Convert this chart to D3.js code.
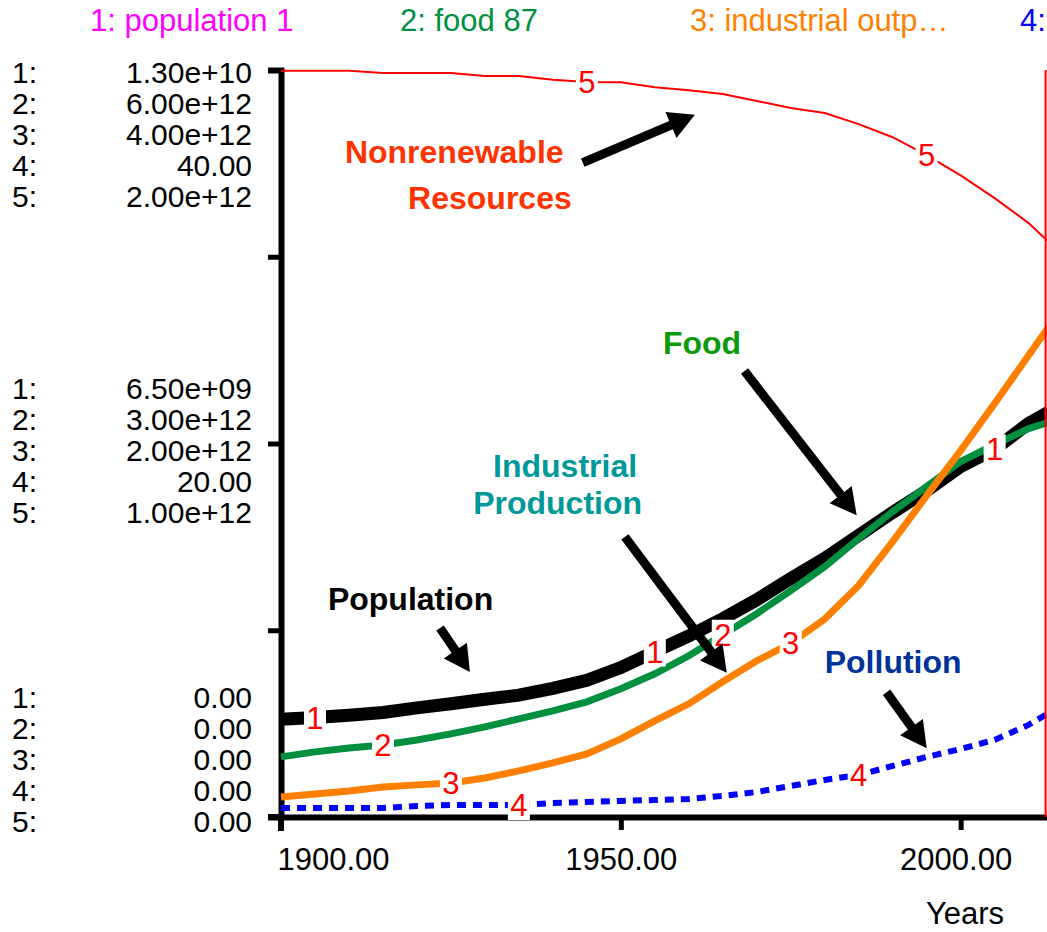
<!DOCTYPE html>
<html>
<head>
<meta charset="utf-8">
<script src="https://cdn.jsdelivr.net/npm/d3@7"></script>
<style>
  body { margin: 0; background: #fff; }
  text { font-family: "Liberation Sans", Arial, sans-serif; }
</style>
</head>
<body>
<svg id="chart" width="1047" height="932"></svg>
<script>
/* World model run: population, food, industry, pollution, resources */

// sampled every 5 years, last point is the end of the run
var years      = [1900,1905,1910,1915,1920,1925,1930,1935,1940,1945,1950,1955,1960,1965,1970,1975,1980,1985,1990,1995,2000,2005,2010,2013];
var population = [1.70e9,1.73e9,1.77e9,1.82e9,1.90e9,1.97e9,2.05e9,2.12e9,2.24e9,2.38e9,2.60e9,2.88e9,3.15e9,3.45e9,3.78e9,4.15e9,4.50e9,4.90e9,5.30e9,5.68e9,6.10e9,6.40e9,6.85e9,7.05e9];
var food       = [0.483e12,0.523e12,0.555e12,0.579e12,0.619e12,0.668e12,0.724e12,0.788e12,0.853e12,0.925e12,1.03e12,1.15e12,1.295e12,1.464e12,1.633e12,1.818e12,2.011e12,2.236e12,2.453e12,2.654e12,2.855e12,2.99e12,3.12e12,3.17e12];
var industrial = [0.107e12,0.123e12,0.139e12,0.161e12,0.172e12,0.182e12,0.209e12,0.247e12,0.290e12,0.338e12,0.418e12,0.515e12,0.606e12,0.724e12,0.836e12,0.93e12,1.06e12,1.24e12,1.475e12,1.721e12,1.962e12,2.214e12,2.472e12,2.627e12];
var pollution  = [0.483,0.483,0.483,0.483,0.59,0.643,0.643,0.643,0.751,0.804,0.858,0.912,0.965,1.126,1.34,1.662,1.984,2.25,2.735,3.217,3.646,4.129,4.933,5.576];
var resources  = [1.998e12,1.998e12,1.998e12,1.992e12,1.992e12,1.992e12,1.984e12,1.984e12,1.974e12,1.968e12,1.967e12,1.954e12,1.946e12,1.936e12,1.917e12,1.898e12,1.885e12,1.855e12,1.820e12,1.772e12,1.718e12,1.657e12,1.590e12,1.539e12];

var seriesMax    = [1.3e10, 6e12, 4e12, 40, 2e12];
var legendLabels = ["1: population 1", "2: food 87", "3: industrial outp\u2026", "4:"];
var labelYears   = [[1905,1955,2005],[1915,1965],[1925,1975],[1935,1985],[1945,1995]];
var xTicks       = [1900, 1950, 2000];
var currentTime  = 2012.5;
var xTitle       = "Years";

// annotations: [text, colour, year, fraction of axis, anchor]
var notes = [
    ["Nonrenewable", "#ff3300", 1909.4, 0.876, "start"],
    ["Resources",    "#ff3300", 1918.7, 0.814, "start"],
    ["Food",         "#0a990a", 1956.2, 0.620, "start"],
    ["Industrial",   "#009999", 1941.8, 0.455, "middle"],
    ["Production",   "#009999", 1940.7, 0.406, "middle"],
    ["Population",   "#000000", 1906.9, 0.277, "start"],
    ["Pollution",    "#003399", 1980.0, 0.193, "start"]
];
// arrows: [tail year, tail frac, tip year, tip frac]
var arrows = [
    [1944.4, 0.876, 1960.9, 0.940],
    [1968.2, 0.597, 1984.7, 0.404],
    [1950.6, 0.375, 1965.6, 0.193],
    [1923.4, 0.253, 1927.8, 0.194],
    [1989.1, 0.167, 1995.0, 0.092]
];

var svg = d3.select("#chart");
var top_ = 70, bot = 817;

var x = d3.scaleLinear().domain([1900, 2013]).range([281, 1049]);
var frac = d3.scaleLinear().domain([0, 1]).range([bot, top_]);
var ys = seriesMax.map(function(m) { return d3.scaleLinear().domain([0, m]).range([bot, top_]); });

var series = [population, food, industrial, pollution, resources];
var colors = ["#000000", "#009040", "#ff8000", "#0000ff", "#ff0000"];
var widths = [13, 7, 7, 6, 2];

function fmt(v) {
    if (v === 0 || v < 1e4) return d3.format(".2f")(v);
    return d3.format(".2e")(v).replace(/e([+-])(\d)$/, "e$10$2");
}

// legend along the top
var legX = [90, 400, 690, 1020];
svg.selectAll(".leg").data(legendLabels).enter().append("text")
    .attr("class", "leg")
    .attr("x", function(d, i) { return legX[i]; })
    .attr("y", 31)
    .style("font-size", "31px")
    .style("fill", function(d, i) { return ["#ff00ff", "#009040", "#ff8000", "#0000ff"][i]; })
    .text(function(d) { return d; });

// y labels: 3 groups of 5 rows
var groupShift = [0, 4, 2];
[1, 0.5, 0].forEach(function(f, gi) {
    var k = (1 - f) * 4;
    var g = svg.append("g");
    seriesMax.forEach(function(m, i) {
        var by = frac(f) + 13 + groupShift[gi] + 31 * (i - k);
        g.append("text").attr("x", 12).attr("y", by)
            .style("font-size", "30px").text((i + 1) + ":");
        g.append("text").attr("x", 252).attr("y", by)
            .attr("text-anchor", "end")
            .style("font-size", "30px").text(fmt(m * f));
    });
});

// axes
var yAxis = svg.append("g").attr("transform", "translate(281,0)")
    .call(d3.axisLeft(frac).tickValues([0.25, 0.5, 0.75]).tickSize(13).tickSizeOuter(13).tickFormat(""));
yAxis.select(".domain").attr("stroke-width", 6).attr("stroke-linejoin", "miter");
yAxis.selectAll(".tick line").attr("stroke-width", 5);

var xAxis = svg.append("g").attr("transform", "translate(0," + bot + ")")
    .call(d3.axisBottom(x).tickValues(xTicks).tickSize(13).tickSizeOuter(0).tickPadding(18)
          .tickFormat(d3.format(".2f")));
xAxis.select(".domain").attr("stroke-width", 6);
xAxis.selectAll(".tick line").attr("stroke-width", 5);
xAxis.selectAll(".tick text")
    .style("font-size", "31px").style("font-family", "'Liberation Sans', Arial, sans-serif")
    .attr("fill", "#000")
    .attr("text-anchor", function(d, i) { return i === 0 ? "start" : "middle"; })
    .attr("x", function(d, i) { return i === 0 ? -4 : (i === 2 ? -5 : 0); });
// left axis continues below the x axis
svg.append("line").attr("x1", 281).attr("x2", 281).attr("y1", bot).attr("y2", 831)
    .attr("stroke", "#000").attr("stroke-width", 6);
svg.append("line").attr("x1", 268).attr("x2", 281).attr("y1", bot).attr("y2", bot)
    .attr("stroke", "#000").attr("stroke-width", 6);

svg.append("text").attr("x", 965).attr("y", 924).attr("text-anchor", "middle")
    .style("font-size", "31px").text(xTitle);

// series lines
series.forEach(function(s, i) {
    var line = d3.line()
        .x(function(d, j) { return x(years[j]); })
        .y(function(d) { return ys[i](d); });
    svg.append("path").datum(s)
        .attr("d", line)
        .attr("fill", "none")
        .attr("stroke", colors[i])
        .attr("stroke-width", widths[i])
        .attr("stroke-dasharray", i === 3 ? "9,7" : null);
});

// current time marker
svg.append("line").attr("x1", x(currentTime)).attr("x2", x(currentTime))
    .attr("y1", top_).attr("y2", bot)
    .attr("stroke", "#ff0000").attr("stroke-width", 2);

// number labels on the lines
labelYears.forEach(function(yl, i) {
    yl.forEach(function(yr) {
        var v = series[i][years.indexOf(yr)];
        var px = x(yr), py = ys[i](v);
        svg.append("rect").attr("x", px - 11).attr("y", py - 15)
            .attr("width", 22).attr("height", 30).attr("fill", "#fff");
        svg.append("text").attr("x", px).attr("y", py).attr("dy", "0.36em")
            .attr("text-anchor", "middle")
            .style("font-size", "31px").style("fill", "#ff0000")
            .text(i + 1);
    });
});

// annotations
svg.selectAll(".note").data(notes).enter().append("text")
    .attr("class", "note")
    .attr("x", function(d) { return x(d[2]); })
    .attr("y", function(d) { return frac(d[3]); })
    .attr("text-anchor", function(d) { return d[4]; })
    .style("font-size", "32px").style("font-weight", "bold")
    .style("fill", function(d) { return d[1]; })
    .text(function(d) { return d[0]; });

function arrowPath(a) {
    var x0 = x(a[0]), y0 = frac(a[1]), x1 = x(a[2]), y1 = frac(a[3]);
    var dx = x1 - x0, dy = y1 - y0, len = Math.sqrt(dx * dx + dy * dy);
    var ux = dx / len, uy = dy / len, nx = -uy, ny = ux;
    var hl = 26, hw = 14, sw = 4.5;
    var bx = x1 - ux * hl, by = y1 - uy * hl;
    var pts = [
        [x0 + nx * sw, y0 + ny * sw], [bx + nx * sw, by + ny * sw], [bx + nx * hw, by + ny * hw],
        [x1, y1],
        [bx - nx * hw, by - ny * hw], [bx - nx * sw, by - ny * sw], [x0 - nx * sw, y0 - ny * sw]
    ];
    return "M" + pts.map(function(p) { return p[0].toFixed(1) + "," + p[1].toFixed(1); }).join("L") + "Z";
}
svg.selectAll(".arrow").data(arrows).enter().append("path")
    .attr("class", "arrow")
    .attr("d", arrowPath)
    .attr("fill", "#000");
</script>
</body>
</html>
